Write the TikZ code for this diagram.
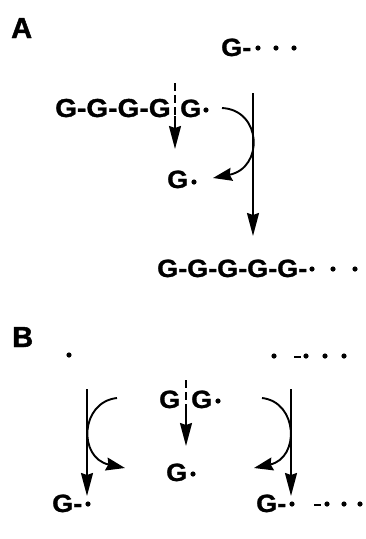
\documentclass[tikz,border=0pt]{standalone}
\usepackage{fontspec}
\setmainfont{Liberation Sans}
\newfontfamily\gfont{Liberation Sans}[UprightFont=*-Bold, FakeStretch=1.08, FakeBold=1.2]
\newfontfamily\lfont{Liberation Sans}[UprightFont=*-Bold, FakeBold=1.4]
\usetikzlibrary{arrows.meta}
\begin{document}
\begin{tikzpicture}[x=1pt,y=-1pt,
  txt/.style={inner sep=0pt, anchor=base west, font=\gfont\fontsize{25}{25}\selectfont},
  lbl/.style={inner sep=0pt, anchor=base west, font=\lfont\fontsize{29}{29}\selectfont},
  rad/.style={fill=black},
  cut/.style={line width=1.9pt, dash pattern=on 8pt off 4pt},
  arr/.style={line width=1.9pt, -{Stealth[length=23pt, width=12pt, inset=2pt]}},
  carr/.style={line width=1.9pt, -{Stealth[length=19pt, width=13pt, inset=2pt]}},
  hy/.style={line width=2.8pt}
]
\useasboundingbox (0,0) rectangle (366,539);
% ---------- A ----------
\node[lbl] (labA) at (11,38) {A};
\node[txt] (gTop) at (221,56) {G-};
\fill[rad] (258,48) circle (2.6pt) (276,48) circle (2.6pt) (294,48) circle (2.6pt);

\node[txt, font=\gfont\fontsize{26}{26}\selectfont] (g4) at (55,117) {G-G-G-G};
\node[txt] (g5) at (180,117) {G};
\fill[rad] (206,110) circle (2.6pt);
\coordinate (cutAtop) at (175,83);
\coordinate (cutAmid) at (175,116);
\coordinate (cutAend) at (175,149);
\draw[cut] (cutAtop) -- (cutAmid);
\draw[arr] (cutAmid) -- (cutAend);

\node[txt] (gA) at (167,188) {G};
\fill[rad] (194,182) circle (2.6pt);

\coordinate (cAs) at (222,108);
\coordinate (cAe) at (213,178);
\draw[carr] (cAs) .. controls (262,110) and (264,168) .. (cAe);

\coordinate (vAs) at (253,93);
\coordinate (vAe) at (253,236);
\draw[arr] (vAs) -- (vAe);

\node[txt] (chain) at (157,277) {G-G-G-G-G-};
\fill[rad] (312,269) circle (2.6pt) (333,269) circle (2.6pt) (355,269) circle (2.6pt);

% ---------- B ----------
\node[lbl] (labB) at (12,347) {B};
\fill[rad] (69,355) circle (2.6pt);
\fill[rad] (274,356) circle (2.6pt) (306,356) circle (2.6pt) (325,356) circle (2.6pt) (344,356) circle (2.6pt);
\draw[hy] (294,357) -- (301,357);

\node[txt] (gg1) at (159,408) {G};
\node[txt] (gg2) at (191,408) {G};
\fill[rad] (218,401) circle (2.6pt);
\coordinate (cutBtop) at (186,380);
\coordinate (cutBmid) at (186,410);
\coordinate (cutBend) at (186,446);
\draw[cut] (cutBtop) -- (cutBmid);
\draw[arr] (cutBmid) -- (cutBend);

\node[txt] (gB) at (166,481) {G};
\fill[rad] (193,474) circle (2.6pt);

\coordinate (vLs) at (87,389);
\coordinate (vLe) at (87,496);
\draw[arr] (vLs) -- (vLe);
\coordinate (cLs) at (117,398);
\coordinate (cLe) at (125,468);
\draw[carr] (cLs) .. controls (80,402) and (78,458) .. (cLe);

\coordinate (vRs) at (291,389);
\coordinate (vRe) at (291,496);
\draw[arr] (vRs) -- (vRe);
\coordinate (cRs) at (262,398);
\coordinate (cRe) at (254,468);
\draw[carr] (cRs) .. controls (298,402) and (300,458) .. (cRe);

\node[txt] (gL) at (52,512) {G-};
\fill[rad] (88,504) circle (2.6pt);
\node[txt] (gR) at (256,512) {G-};
\fill[rad] (292,504) circle (2.6pt);
\draw[hy] (314,505) -- (321,505);
\fill[rad] (327,504) circle (2.6pt) (344,504) circle (2.6pt) (360,504) circle (2.6pt);
\end{tikzpicture}
\end{document}
